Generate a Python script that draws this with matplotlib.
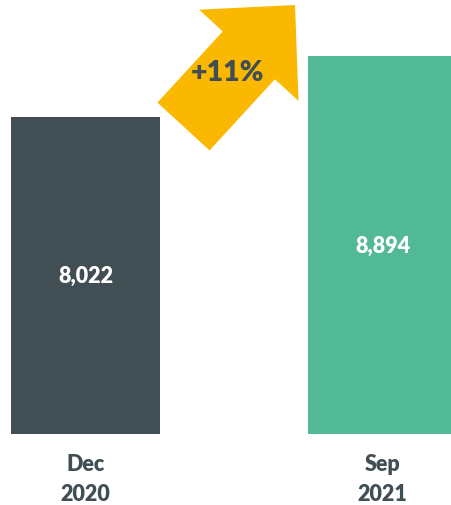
import matplotlib
matplotlib.use("Agg")
import matplotlib.pyplot as plt
from matplotlib.patches import FancyArrow

categories = ["Dec\n2020", "Sep\n2021"]
values = [8022, 8894]
value_labels = ["8,022", "8,894"]
change_label = "+11%"

colors = ["#414f54", "#52b996"]
text_color = "#414f54"
arrow_color = "#fab800"

W, H = 451, 506
fig = plt.figure(figsize=(W / 100, H / 100), dpi=100)

# main bar axes (pixel mapping: bar bottom at 435px)
ax = fig.add_axes([0, (H - 435) / H, 1, 435 / H])
x = [0, 1]
bw = 149 / 297
ax.bar(x, values, width=bw, color=colors)
ax.set_xlim(-85.5 / 297, 1 + (451 - 382.5) / 297)
ax.set_ylim(3490, 9709)
ax.axis("off")

for xi, v, lab in zip(x, values, value_labels):
    ax.text(xi, (3490 + v) / 2, lab, ha="center", va="center", color="white",
            fontsize=15.5, fontweight="heavy", family="Lato")

for xi, cat in zip(x, categories):
    ax.annotate(cat, xy=(xi, 3490), xytext=(0, -32), textcoords="offset points",
                ha="center", va="center", color=text_color,
                fontsize=15.5, fontweight="heavy", family="Lato",
                linespacing=1.5, annotation_clip=False)

# overlay axes in pixel coordinates for the arrow
ov = fig.add_axes([0, 0, 1, 1], zorder=3)
ov.set_xlim(0, W)
ov.set_ylim(H, 0)
ov.axis("off")
ov.patch.set_alpha(0)
arr = FancyArrow(183.5, 127.5, 111.5, -121.5, width=70.8, head_width=135,
                 head_length=68.3, length_includes_head=True,
                 color=arrow_color, lw=0)
ov.add_patch(arr)
ov.text(227, 73, change_label, ha="center", va="center", color=text_color,
        fontsize=20.5, fontweight="heavy", family="Lato")

fig.savefig("out.png", dpi=100)
